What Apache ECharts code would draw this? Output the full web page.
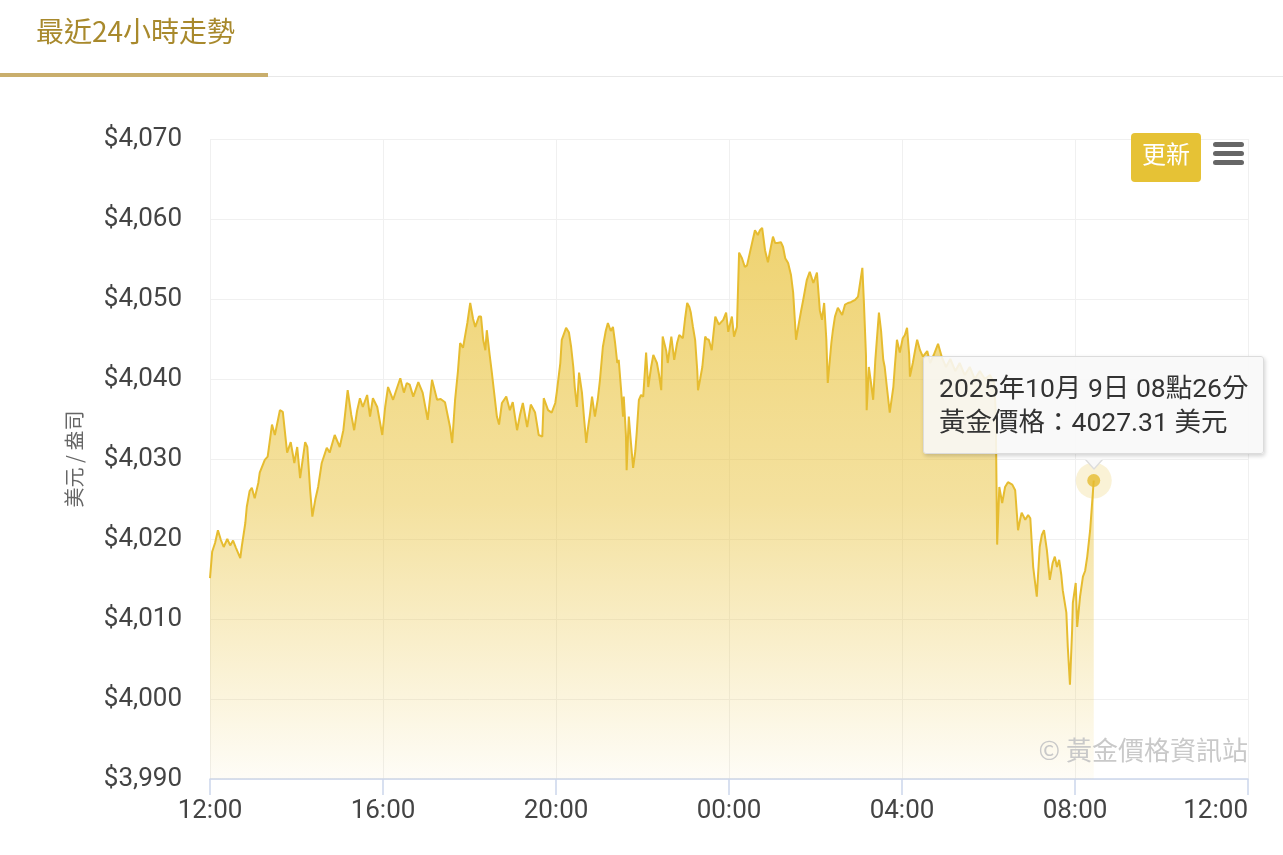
<!DOCTYPE html>
<html>
<head>
<meta charset="utf-8">
<script src="https://cdn.jsdelivr.net/npm/echarts@6/dist/echarts.min.js"></script>
<style>
html,body{margin:0;padding:0;background:#fff;}
#chart{width:1283px;height:855px;}
</style>
</head>
<body>
<div id="chart"></div>
<script>
// ---- data ----
const titleText = '最近24小時走勢';
const yAxisName = '美元 / 盎司';
const watermark = '© 黃金價格資訊站';
const buttonText = '更新';
const xTickLabels = ['12:00', '16:00', '20:00', '00:00', '04:00', '08:00', '12:00'];
const startDate = { year: 2025, month: 10, day: 8 };   // series starts 2025-10-08 12:00
const yMin = 3990, yMax = 4070, yStep = 10;

const times = [
 '12:00','12:03','12:07','12:11','12:15','12:19','12:24','12:28','12:32','12:36','12:42','12:44','12:49','12:51','12:55','12:58',
 '13:02','13:07','13:09','13:16','13:20','13:26','13:30','13:37','13:41','13:47','13:52','13:57','14:01','14:05','14:12','14:15',
 '14:19','14:22','14:26','14:30','14:35','14:42','14:46','14:53','15:00','15:05','15:11','15:16','15:20','15:24','15:28','15:32',
 '15:38','15:42','15:46','15:52','15:56','15:59','16:03','16:07','16:14','16:18','16:24','16:29','16:33','16:37','16:42','16:49',
 '16:55','17:02','17:08','17:15','17:20','17:26','17:33','17:36','17:40','17:44','17:47','17:51','17:57','18:01','18:05','18:08',
 '18:13','18:16','18:19','18:22','18:24','18:28','18:31','18:38','18:41','18:45','18:51','18:56','19:00','19:06','19:10','19:14',
 '19:20','19:25','19:31','19:36','19:41','19:43','19:49','19:54','19:59','20:01','20:06','20:08','20:14','20:18','20:21','20:24',
 '20:26','20:29','20:32','20:36','20:39','20:42','20:44','20:47','20:50','20:54','20:58','21:01','21:05','21:09','21:12','21:16',
 '21:19','21:22','21:25','21:27','21:30','21:33','21:34','21:37','21:38','21:41','21:44','21:47','21:50','21:52','21:55','21:58',
 '22:01','22:05','22:08','22:12','22:15','22:17','22:20','22:23','22:26','22:28','22:33','22:35','22:40','22:44','22:48','22:51',
 '22:56','22:59','23:02','23:05','23:07','23:10','23:13','23:16','23:17','23:20','23:23','23:27','23:29','23:32','23:36','23:41',
 '23:46','23:52','23:56','23:59','00:04','00:07','00:11','00:14','00:18','00:22','00:25','00:29','00:33','00:36','00:40','00:43',
 '00:46','00:50','00:54','00:57','01:01','01:04','01:07','01:12','01:15','01:18','01:22','01:26','01:29','01:33','01:37','01:40',
 '01:43','01:48','01:52','01:57','01:59','02:02','02:06','02:09','02:12','02:15','02:17','02:22','02:24','02:27','02:31','02:37',
 '02:41','02:45','02:49','02:55','02:59','03:05','03:07','03:10','03:11','03:14','03:17','03:20','03:23','03:28','03:31','03:34',
 '03:36','03:39','03:43','03:48','03:50','03:53','03:57','04:01','04:04','04:07','04:10','04:11','04:15','04:18','04:21','04:25',
 '04:29','04:35','04:39','04:44','04:50','04:55','05:01','05:07','05:14','05:20','05:27','05:34','05:41','05:48','05:55','06:02',
 '06:08','06:10','06:12','06:15','06:19','06:23','06:27','06:33','06:37','06:41','06:44','06:46','06:51','06:55','06:58','07:02',
 '07:04','07:07','07:11','07:14','07:17','07:21','07:25','07:29','07:32','07:35','07:38','07:41','07:43','07:48','07:50','07:53',
 '07:56','07:57','08:01','08:03','08:07','08:11','08:14','08:17','08:21','08:26'
];
const prices = [
 4015.1,4018.4,4019.5,4021.1,4019.9,4019.0,4020.0,4019.2,4019.8,4018.9,4017.6,4019.0,4022.0,4024.0,4026.0,4026.4,
 4025.1,4027.0,4028.3,4029.9,4030.3,4034.3,4033.0,4036.1,4035.9,4030.8,4032.1,4029.5,4031.5,4027.6,4032.1,4031.5,
 4026.0,4022.8,4024.9,4026.5,4029.5,4031.4,4030.8,4033.0,4031.5,4033.6,4038.6,4035.5,4033.6,4036.0,4037.6,4036.5,
 4038.0,4035.3,4037.6,4036.5,4034.5,4033.0,4036.5,4039.0,4037.4,4038.5,4040.1,4038.3,4039.5,4039.3,4037.8,4039.6,
 4038.3,4034.9,4039.9,4037.4,4037.5,4037.1,4034.0,4032.0,4037.4,4041.0,4044.5,4043.9,4047.0,4049.5,4047.5,4046.5,
 4047.8,4047.8,4044.9,4043.6,4046.1,4043.0,4040.8,4035.3,4034.3,4037.0,4037.8,4036.1,4037.1,4033.6,4035.5,4037.0,
 4034.0,4036.8,4035.8,4033.0,4032.8,4037.6,4036.1,4035.8,4037.0,4038.3,4042.0,4044.9,4046.4,4045.8,4044.0,4041.5,
 4039.0,4036.5,4040.8,4038.3,4035.0,4032.0,4033.6,4035.5,4037.8,4035.3,4037.5,4039.9,4044.0,4046.0,4047.0,4046.0,
 4046.5,4044.5,4042.0,4042.4,4039.0,4035.3,4037.8,4033.0,4028.6,4035.3,4032.0,4028.9,4031.0,4033.3,4037.4,4038.0,
 4037.8,4043.3,4039.0,4041.5,4043.0,4042.6,4042.0,4040.5,4038.6,4045.3,4043.5,4042.0,4045.3,4042.4,4044.5,4045.5,
 4045.1,4047.5,4049.5,4049.0,4048.3,4046.5,4044.9,4041.0,4038.6,4040.0,4041.5,4045.3,4045.0,4044.9,4043.6,4047.8,
 4046.8,4047.4,4048.3,4045.9,4047.8,4045.3,4046.5,4055.8,4055.1,4054.0,4054.2,4055.8,4057.4,4058.6,4058.0,4058.6,
 4058.9,4056.1,4054.6,4056.0,4057.8,4057.0,4057.0,4057.1,4056.5,4055.1,4054.5,4053.0,4050.8,4044.9,4047.0,4048.5,
 4049.9,4052.4,4053.4,4052.0,4052.5,4053.3,4048.6,4047.4,4049.5,4045.0,4039.5,4044.5,4046.0,4047.8,4048.9,4048.0,
 4049.3,4049.5,4049.6,4049.9,4050.3,4053.9,4049.9,4043.0,4036.1,4041.5,4039.5,4037.4,4042.4,4048.3,4046.0,4042.4,
 4041.5,4039.0,4035.8,4039.0,4041.5,4044.9,4043.3,4045.1,4045.5,4046.4,4043.0,4040.3,4042.0,4043.5,4044.9,4043.6,
 4042.8,4043.5,4042.0,4043.0,4044.4,4042.8,4041.5,4042.5,4041.0,4042.0,4040.5,4041.5,4040.0,4041.0,4040.0,4040.5,
 4039.5,4036.0,4019.3,4026.5,4024.5,4026.5,4027.1,4026.8,4026.1,4021.1,4022.5,4023.3,4022.4,4023.0,4022.6,4016.5,
 4015.0,4012.8,4019.0,4020.5,4021.1,4018.6,4014.9,4017.0,4017.8,4016.5,4017.4,4015.5,4013.6,4010.8,4006.5,4001.8,
 4008.6,4012.0,4014.5,4009.0,4012.8,4015.3,4016.0,4017.8,4021.1,4027.31
];

// ---- helpers ----
function minutesFromStart(t) {
  const [h, m] = t.split(':').map(Number);
  return ((h * 60 + m) - 720 + 1440) % 1440;
}
const seriesData = times.map((t, i) => [minutesFromStart(t), prices[i]]);
const lastIdx = seriesData.length - 1;
const lastPoint = seriesData[lastIdx];

function tipText(minOffset, price) {
  const abs = 720 + minOffset;
  const day = startDate.day + Math.floor(abs / 1440);
  const md = abs % 1440;
  const hh = String(Math.floor(md / 60)).padStart(2, '0');
  const mm = String(md % 60).padStart(2, '0');
  return startDate.year + '年' + startDate.month + '月 ' + day + '日 ' + hh + '點' + mm + '分<br>' +
         '黃金價格：' + price.toFixed(2) + ' 美元';
}

const FONT = 'Roboto, "Noto Sans CJK TC", sans-serif';
const chart = echarts.init(document.getElementById('chart'), null, { renderer: 'canvas' });

chart.setOption({
  animation: false,
  backgroundColor: '#ffffff',
  title: {
    text: titleText,
    left: 31, top: 12,
    textStyle: { fontSize: 28, fontWeight: 'normal', color: '#a8892c', fontFamily: '"Noto Sans CJK TC", sans-serif' }
  },
  grid: { left: 210, right: 35, top: 139, bottom: 76, containLabel: false },
  xAxis: {
    type: 'value', min: 0, max: 1440, interval: 240,
    axisLine: { show: true, lineStyle: { color: '#ccd6eb', width: 1.5 } },
    axisTick: { show: true, length: 16, lineStyle: { color: '#ccd6eb', width: 1.5 } },
    axisLabel: {
      fontSize: 26, color: '#444', fontFamily: FONT, margin: 19,
      alignMaxLabel: 'right',
      formatter: v => xTickLabels[Math.round(v / 240)]
    },
    splitLine: { show: true, lineStyle: { color: '#f0f0f0', width: 1 } }
  },
  yAxis: {
    type: 'value', min: yMin, max: yMax, interval: yStep,
    name: yAxisName, nameLocation: 'middle', nameRotate: 90, nameGap: 126,
    nameTextStyle: { fontSize: 20, color: '#666', fontFamily: '"Noto Sans CJK TC", sans-serif' },
    axisLine: { show: false }, axisTick: { show: false },
    axisLabel: {
      fontSize: 26, color: '#444', fontFamily: FONT, margin: 28,
      formatter: v => '$' + v.toLocaleString('en-US')
    },
    splitLine: { show: true, lineStyle: { color: '#f0f0f0', width: 1 } }
  },
  tooltip: {
    trigger: 'item',
    triggerOn: 'none',
    alwaysShowContent: true,
    transitionDuration: 0,
    backgroundColor: 'rgba(248,248,248,0.88)',
    borderColor: '#dcdcdc',
    borderWidth: 1,
    borderRadius: 3,
    padding: [14, 15],
    extraCssText: 'box-shadow: 1px 2px 4px rgba(0,0,0,0.18); line-height:34px; overflow:visible;',
    textStyle: { fontSize: 26.5, color: '#333', fontFamily: FONT },
    position: function (pt, params, dom, rect, size) {
      return [pt[0] - size.contentSize[0] / 2, pt[1] - size.contentSize[1] - 27];
    },
    formatter: function (p) {
      return '<div style="position:relative;line-height:34px;">' + tipText(p.value[0], p.value[1]) +
        '<div style="position:absolute;left:50%;bottom:-31px;margin-left:-9px;width:0;height:0;' +
        'border-left:9px solid transparent;border-right:9px solid transparent;border-top:10px solid #dcdcdc;"></div>' +
        '<div style="position:absolute;left:50%;bottom:-29px;margin-left:-8px;width:0;height:0;' +
        'border-left:8px solid transparent;border-right:8px solid transparent;border-top:9px solid rgba(248,248,248,1);"></div>' +
        '</div>';
    }
  },
  graphic: [
    { type: 'rect', left: 0, top: 76, shape: { width: 1283, height: 1 }, style: { fill: '#e8e8e8' }, silent: true },
    { type: 'rect', left: 0, top: 73, shape: { width: 268, height: 4 }, style: { fill: '#c9ae6c' }, silent: true },
    { type: 'rect', left: 1131, top: 133, shape: { width: 70, height: 49, r: 4 }, style: { fill: '#e6c235' }, z: 10 },
    { type: 'text', left: 1142, top: 142, style: { text: buttonText, fill: '#ffffff', fontSize: 24, fontFamily: '"Noto Sans CJK TC", sans-serif' }, z: 11 },
    { type: 'rect', left: 1213, top: 142, shape: { width: 31, height: 5, r: 2.5 }, style: { fill: '#666' }, z: 10 },
    { type: 'rect', left: 1213, top: 151, shape: { width: 31, height: 5, r: 2.5 }, style: { fill: '#666' }, z: 10 },
    { type: 'rect', left: 1213, top: 160, shape: { width: 31, height: 5, r: 2.5 }, style: { fill: '#666' }, z: 10 },
    { type: 'text', right: 35, top: 737, style: { text: watermark, fill: '#c9c9c9', fontSize: 26, fontFamily: '"Noto Sans CJK TC", sans-serif' }, z: 10, silent: true }
  ],
  series: [
    {
      type: 'line',
      data: seriesData,
      showSymbol: false,
      symbol: 'none',
      silent: true,
      lineStyle: { color: '#e6bc30', width: 2 },
      areaStyle: {
        origin: 'start',
        color: new echarts.graphic.LinearGradient(0, 0, 0, 1, [
          { offset: 0, color: 'rgba(232,192,52,1)' },
          { offset: 0.5, color: 'rgba(232,192,52,0.68)' },
          { offset: 1, color: 'rgba(232,192,52,0.06)' }
        ])
      },
      z: 2
    },
    {
      type: 'scatter',
      data: [lastPoint],
      symbolSize: 36,
      silent: true,
      itemStyle: { color: 'rgba(230,190,48,0.25)' },
      emphasis: { disabled: true },
      tooltip: { show: false },
      z: 3
    },
    {
      type: 'scatter',
      data: [lastPoint],
      symbolSize: 13,
      itemStyle: { color: '#e6bc30' },
      emphasis: { disabled: true, scale: false },
      z: 4
    }
  ]
});

chart.dispatchAction({ type: 'showTip', seriesIndex: 2, dataIndex: 0 });
</script>
</body>
</html>
